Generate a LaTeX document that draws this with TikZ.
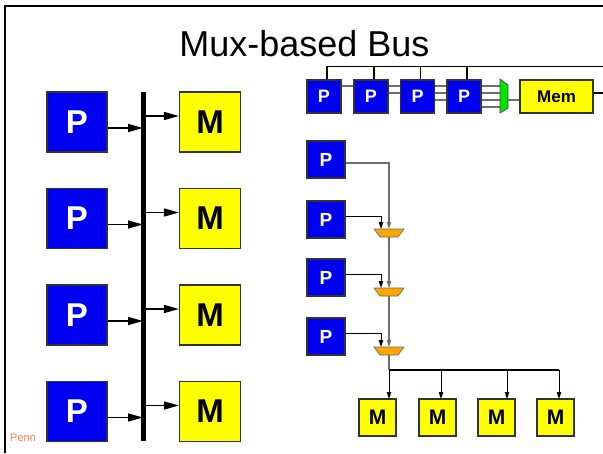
\documentclass[tikz,border=0pt]{standalone}
\usepackage{fontspec}
\setmainfont{Liberation Sans}
\usetikzlibrary{arrows.meta,backgrounds}
\definecolor{pblue}{RGB}{0,0,240}
\definecolor{myellow}{RGB}{255,255,0}
\definecolor{mgreen}{RGB}{0,230,0}
\definecolor{morange}{RGB}{255,165,0}
\definecolor{penn}{RGB}{255,128,64}
\definecolor{wire}{RGB}{110,110,110}
\begin{document}
\begin{tikzpicture}[x=1pt,y=-1pt,
  box/.style={draw=black!80,line width=1.2pt,inner sep=0pt,font=\bfseries},
  bigp/.style={box,fill=pblue,text=white,minimum width=60pt,minimum height=60pt,font=\bfseries\fontsize{33}{33}\selectfont},
  bigm/.style={box,fill=myellow,text=black,minimum width=61pt,minimum height=60pt,font=\bfseries\fontsize{33}{33}\selectfont},
  smp/.style={box,fill=pblue,text=white,minimum width=34pt,minimum height=33pt,font=\bfseries\fontsize{18}{18}\selectfont},
  chp/.style={box,fill=pblue,text=white,minimum width=38pt,minimum height=37pt,font=\bfseries\fontsize{19}{19}\selectfont},
  smm/.style={box,fill=myellow,text=black,minimum width=37pt,minimum height=37pt,font=\bfseries\fontsize{21}{21}\selectfont},
  bigarr/.style={line width=1.6pt,-{Triangle[length=15pt,width=8pt]}},
  smarr/.style={line width=1pt,-{Triangle[length=7pt,width=4.5pt]}},
  gw/.style={draw=wire,line width=1.1pt},
  bw/.style={draw=black,line width=1.1pt}]
\useasboundingbox (0,0) rectangle (603,453);
% frame
\draw[line width=2pt] (603,6) -- (5,6) -- (5,453);
\node[anchor=base,font=\fontsize{36}{36}\selectfont] (title) at (304.5,56) {Mux-based Bus};
\node[anchor=west,text=penn,font=\fontsize{11}{11}\selectfont,inner sep=0pt] (penn) at (10,438) {Penn};

% ---------- left: bus ----------
\coordinate (busTop) at (143,92);
\coordinate (busBot) at (143,441);
\draw[line width=5pt] (busTop) -- (busBot);
\foreach \i/\y in {1/122,2/218.5,3/315,4/411.5}{
  \node[bigp] (P\i) at (77,\y) {P};
  \node[bigm] (M\i) at (210,\y) {M};
  \draw[bigarr] ([yshift=-6pt]P\i.east) -- ([yshift=-6pt]P\i.east -| busTop);
  \draw[bigarr] ([yshift=6pt]M\i.west -| busTop) -- ([yshift=6pt]M\i.west);
}

% ---------- top right: mux-based shared memory ----------
\foreach \i/\x in {1/324,2/371,3/417.5,4/464}{
  \node[smp] (tp\i) at (\x,96.5) {P};
}
\node[box,fill=myellow,minimum width=73pt,minimum height=33pt,font=\bfseries\fontsize{17}{17}\selectfont] (mem) at (556.5,96.5) {Mem};
\coordinate (gmA) at (500,79);
\coordinate (gmB) at (508,85);
\coordinate (gmC) at (508,108);
\coordinate (gmD) at (500,113);
\begin{scope}[on background layer]
  \foreach \i/\y in {1/86,2/93,3/100,4/107}{
    \draw[gw] ([yshift=96.5pt-\y pt]tp\i.east) -- ([yshift=96.5pt-\y pt]tp\i.east -| gmA);
  }
\end{scope}
\draw[draw=black!70,fill=mgreen,line width=0.8pt] (gmA) -- (gmB) -- (gmC) -- (gmD) -- cycle;
\coordinate (gmOut) at (508,100);
\draw[gw] (gmOut) -- (gmOut -| mem.west);
\coordinate (topR) at (603,66.5);
\coordinate (memR) at (603,93);
\draw[bw] ([yshift=3.5pt]mem.east) -- (memR);
\draw[bw] ([xshift=3pt]tp1.north) |- (topR);
\foreach \i in {2,3,4}{
  \draw[bw] ([xshift=3pt]tp\i.north) -- ([xshift=3pt]tp\i.north |- topR);
}

% ---------- lower right: chain of muxes ----------
\foreach \i/\y in {1/159.5,2/219.5,3/277.5,4/336.5}{
  \node[chp] (cp\i) at (326,\y) {P};
}
\foreach \j/\t in {1/229,2/288,3/347}{
  \coordinate (mx\j) at (389,\t);
  \coordinate (mxb\j) at (389,\t+8);
  \draw[draw=black!60,fill=morange,line width=0.6pt] (374,\t) -- (404,\t) -- (398,\t+8) -- (380,\t+8) -- cycle;
}
\draw[gw,-{Triangle[length=7pt,width=4.5pt]}] ([yshift=-3.5pt]cp1.east) -| (mx1);
\draw[gw,-{Triangle[length=7pt,width=4.5pt]}] (mxb1) -- (mx2);
\draw[gw,-{Triangle[length=7pt,width=4.5pt]}] (mxb2) -- (mx3);
\foreach \i/\j in {2/1,3/2,4/3}{
  \draw[smarr] ([yshift=3.5pt]cp\i.east) -| ([xshift=-8pt]mx\j);
}
\coordinate (split) at (389,370);
\foreach \k/\x in {1/377.5,2/437.5,3/496.5,4/555.5}{
  \node[smm] (bm\k) at (\x,417.5) {M};
}
\draw[gw] (mxb3) -- (split);
\draw[bw] (split) -- (559,370);
\foreach \k/\x in {1/389,2/441,3/507,4/559}{
  \draw[smarr] (\x,370) -- (\x,399);
}
\end{tikzpicture}
\end{document}
